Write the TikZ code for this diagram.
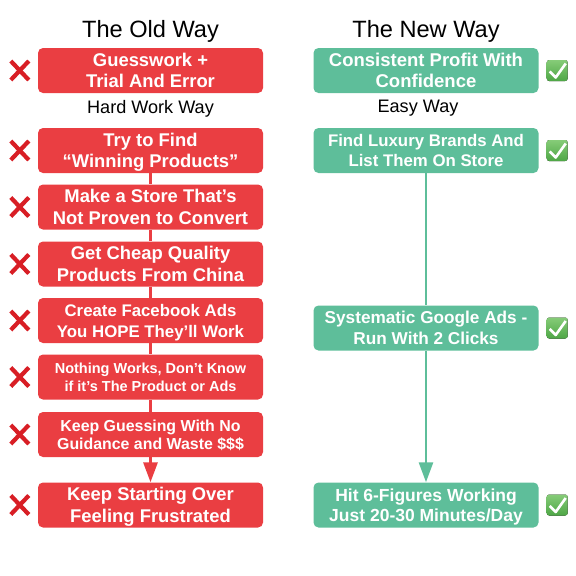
\documentclass[tikz,border=0pt]{standalone}
\usepackage{fontspec}
\setmainfont{Liberation Sans}
\usetikzlibrary{arrows.meta}
\definecolor{oldred}{HTML}{EA3E42}
\definecolor{newgreen}{HTML}{5EBE9A}
\definecolor{xred}{HTML}{D81E25}
\definecolor{oktop}{HTML}{86CC78}
\definecolor{okbot}{HTML}{4EA646}

\begin{document}
\begin{tikzpicture}[x=1pt,y=-1pt,
  card/.style={rounded corners=5pt,minimum width=225pt,minimum height=45pt,inner sep=0pt,
    align=center,text=white,font=\bfseries\fontsize{18.4}{21.5}\selectfont},
  oldc/.style={card,fill=oldred}, newc/.style={card,fill=newgreen},
  fsz/.style 2 args={font=\bfseries\fontsize{#1}{#2}\selectfont},
  ttl/.style={anchor=base,font=\fontsize{23.6}{28}\selectfont},
  sub/.style={anchor=base,font=\fontsize{18.1}{22}\selectfont},
  redln/.style={draw=oldred,line width=3pt}, grnln/.style={draw=newgreen,line width=2.8pt},
  tip/.style={-{Triangle[length=20pt,width=14pt]}},
  xmark/.style={draw=xred,line width=4.2pt},
  okbox/.style={rounded corners=2.5pt,top color=oktop,bottom color=okbot},
  tick/.style={draw=white,line width=2.6pt,line join=round}]
\useasboundingbox (0,0) rectangle (576,576);
% headings
\node[ttl] (oldttl) at (150.5,37) {The Old Way};
\node[ttl] (newttl) at (426,37) {The New Way};
% old way
\node[oldc] (old1) at (150.5,70.5) {Guesswork +\\\smash{Trial And Error}};
\node[sub] (oldsub) at (150.5,113) {Hard Work Way};
\node[oldc] (old2) at (150.5,150.5) {Try to Find\\\smash{“Winning Products”}};
\node[oldc] (old3) at (150.5,207) {Make a Store That’s\\\smash{Not Proven to Convert}};
\node[oldc] (old4) at (150.5,264) {Get Cheap Quality\\\smash{Products From China}};
\node[oldc,fsz={16.8}{21}] (old5) at (150.5,320.5) {Create Facebook Ads\\\smash{You HOPE They’ll Work}};
\node[oldc,fsz={14.5}{18}] (old6) at (150.5,377) {Nothing Works, Don’t Know\\\smash{if it’s The Product or Ads}};
\node[oldc,fsz={15.9}{18.5}] (old7) at (150.5,434.5) {Keep Guessing With No\\\smash{Guidance and Waste \$\$\$}};
\node[oldc] (old8) at (150.5,505) {Keep Starting Over\\\smash{Feeling Frustrated}};
\foreach \a/\b in {2/3,3/4,4/5,5/6,6/7} {\draw[redln] (old\a) -- (old\b);}
\draw[redln,tip] (old7) -- (old8);
% new way
\node[newc,fsz={18.5}{21.5}] (new1) at (426,70.5) {Consistent Profit With\\\smash{Confidence}};
\node[sub] (newsub) at (418,112) {Easy Way};
\node[newc,fsz={16.8}{20}] (new2) at (426,150.5) {Find Luxury Brands And\\\smash{List Them On Store}};
\node[newc,fsz={17.2}{21}] (new3) at (426,328) {Systematic Google Ads -\\\smash{Run With 2 Clicks}};
\node[newc,fsz={17.5}{20}] (new4) at (426,505) {Hit 6-Figures Working\\\smash{Just 20-30 Minutes/Day}};
\draw[grnln] (new2) -- (new3);
\draw[grnln,tip] (new3) -- (new4);
% marks
\foreach \i in {1,...,8} {
  \draw[xmark] (old\i.west) ++(-27,-9.5) -- ++(18,19);
  \draw[xmark] (old\i.west) ++(-27,9.5) -- ++(18,-19);
}
\foreach \i in {1,...,4} {
  \fill[okbox] (new\i.east) ++(8,-10.5) rectangle ++(21,21);
  \draw[tick] (new\i.east) ++(11,1) -- ++(6,6) -- ++(10,-14);
}
\end{tikzpicture}
\end{document}
